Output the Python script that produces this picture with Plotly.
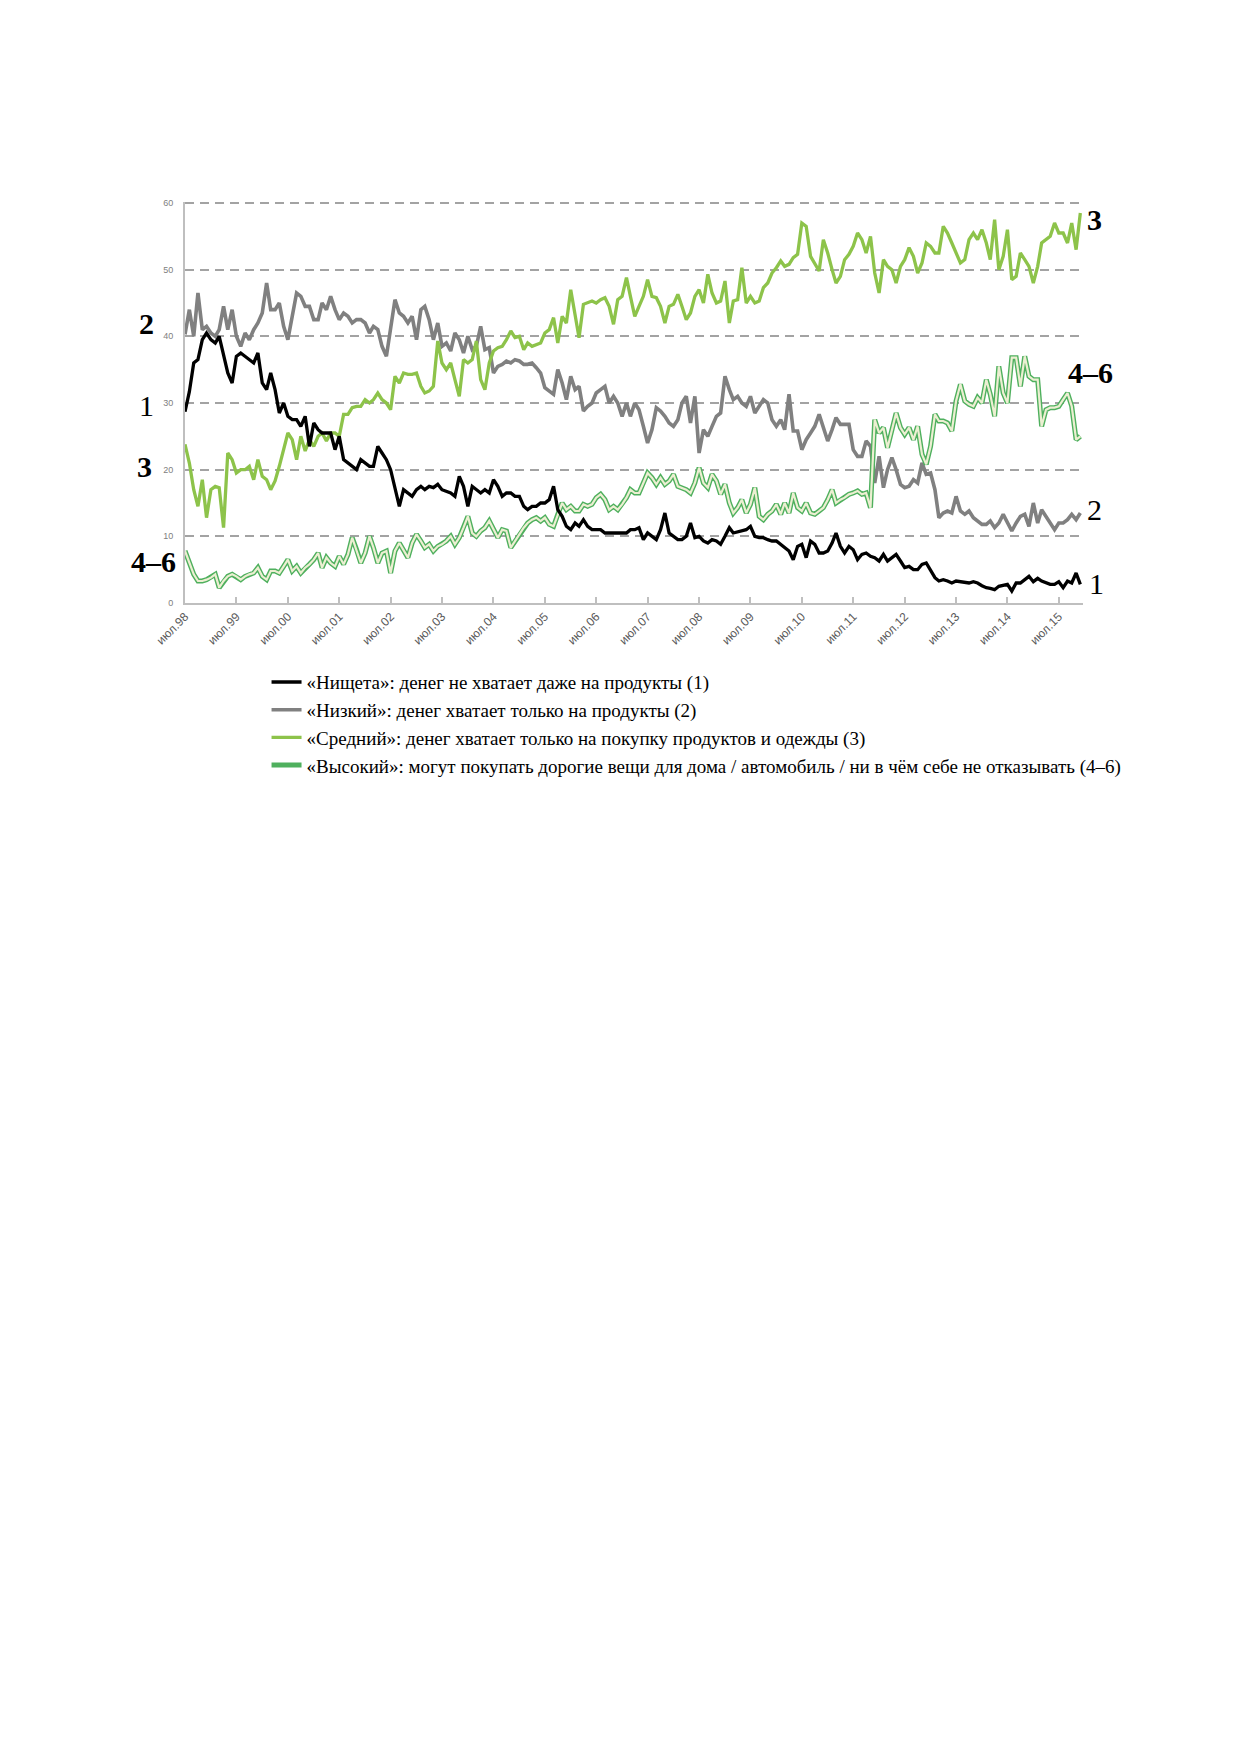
import pandas as pd
import plotly.graph_objects as go

## monthly points, jul 1998 .. dec 2015
months = pd.date_range('1998-07-01', periods=210, freq='MS')

## (1) «Нищета»
poverty = [28.7, 31.7, 36, 36.5, 39.5, 40.5, 39.5, 39, 40, 37,
           34.5, 33, 37, 37.5, 37, 36.5, 36, 37.5, 33, 32,
           34.5, 32, 28.5, 30, 28, 27.5, 27.5, 26.5, 28, 23.5,
           27, 26, 25.5, 25.5, 25.5, 23, 25, 21.5, 21, 20.5,
           20, 21.5, 21, 20.5, 20.5, 23.5, 22.5, 21.5, 20, 17,
           14.5, 17, 16.5, 16, 17, 17.5, 17, 17.5, 17.3, 17.8,
           17, 16.8, 16.5, 16, 19, 17.5, 14.5, 17.5, 17, 16.5,
           17, 16.5, 18.5, 17.5, 16, 16.5, 16.5, 16, 16, 14.5,
           14, 14.5, 14.5, 15, 15, 15.5, 17.5, 14, 13, 11.5,
           11, 12, 11.5, 12.5, 11.5, 11, 11, 11, 10.5, 10.5,
           10.5, 10.5, 10.5, 10.5, 11, 11, 11.3, 9.5, 10.5, 10,
           9.5, 11, 13.5, 10.5, 10, 9.5, 9.5, 10, 12, 9.8,
           10, 9.3, 9, 9.5, 9.3, 8.8, 10, 11.3, 10.5, 10.7,
           10.8, 11, 11.5, 10, 9.8, 9.8, 9.5, 9.3, 9.3, 8.8,
           8.2, 7.8, 6.5, 8.5, 8.8, 6.8, 9.3, 8.8, 7.5, 7.5,
           7.8, 9, 10.5, 8.5, 7.5, 8.5, 8, 6.5, 7.3, 7.5,
           7, 6.8, 6.3, 7.3, 6.3, 6.8, 7.3, 6.3, 5.3, 5.5,
           5, 5, 5.8, 6, 4.8, 3.8, 3.3, 3.5, 3.3, 3,
           3.3, 3.2, 3, 3, 3.2, 3, 2.6, 2.3, 2.2, 2,
           2.5, 2.7, 2.8, 1.8, 3, 3, 3.5, 4, 3.2, 3.7,
           3.3, 3, 2.8, 2.8, 3.2, 2.3, 3.3, 3, 4.5, 2.8]

## (2) «Низкий»
low = [40.3, 44, 40, 46.5, 41, 41.5, 40.5, 40, 41, 44.5,
       41, 44, 40, 38.5, 40.5, 39.5, 41, 42, 43.5, 48,
       44, 44, 45, 41.5, 39.5, 43, 46.5, 46, 44.5, 44.5,
       42.5, 42.5, 45, 44, 46, 44, 42.5, 43.5, 43, 42,
       42.5, 42.5, 42, 40.5, 41.5, 41, 38.5, 37, 41.5, 45.5,
       43.5, 43, 42, 43, 39.5, 44, 44.5, 42.5, 39.5, 42,
       38.5, 39, 37.8, 40.5, 39.5, 37.5, 40, 38, 38.5, 41.5,
       38, 38.3, 34.5, 35.5, 35.8, 36.3, 36, 36.5, 36.3, 35.8,
       35.8, 36, 35.3, 34.5, 32.3, 31.8, 31.3, 35, 33, 30.5,
       34, 32, 32.5, 28.8, 29.5, 30, 31.5, 32, 32.5, 30,
       31, 30, 28, 30, 28, 30, 29, 26.5, 24, 26,
       29.3, 28.8, 28, 27, 26.5, 27.5, 30, 31, 27, 31,
       22.5, 26, 25, 26.5, 28, 28.5, 34, 32, 30.5, 31,
       30, 29.5, 31, 28.5, 29.5, 30.5, 30, 27.5, 26.5, 27.5,
       26, 31.3, 25.8, 25.8, 23, 24.5, 25.5, 26.5, 28.3, 26.3,
       24.3, 26, 27.8, 26.8, 26.8, 26.8, 23, 22, 22, 24.3,
       23.5, 18, 22, 17.3, 20, 21.8, 20, 17.8, 17.3, 17.5,
       18.5, 18, 21, 19.3, 19.5, 17, 12.8, 13.5, 13.8, 13.5,
       16, 13.8, 13.3, 13.8, 12.8, 12.3, 11.8, 11.8, 12.3, 11.3,
       12, 13.3, 12, 10.8, 12, 13, 13.3, 11.5, 15, 12,
       14, 13, 11.8, 11, 12, 12, 12.5, 13.3, 12.5, 13.5]

## (3) «Средний»
middle = [23.8, 21, 17, 14.5, 18.5, 12.8, 17, 17.5, 17.3, 11.3,
          22.5, 21.5, 19.5, 20, 20, 20.5, 18.5, 21.5, 19, 18.5,
          17, 18.3, 20.5, 23, 25.5, 24.5, 21.5, 25, 22.8, 24.5,
          23.5, 25, 25.5, 24.3, 25.5, 25.5, 25, 28.3, 28.3, 29.3,
          29.5, 29.5, 30.5, 30, 30.5, 31.5, 30.5, 30, 29, 34,
          33, 34.5, 34.3, 34.3, 34.5, 32.5, 31.5, 31.8, 32.5, 39.3,
          36, 35, 36, 33.5, 31, 36.5, 36, 36.5, 39.3, 33.5,
          32, 36, 37.8, 38.3, 38.5, 39.5, 40.8, 39.8, 40, 38,
          39, 38.5, 38.8, 39, 40.5, 41, 42.8, 39, 43, 42,
          47, 42.8, 39.8, 44.8, 45, 45.3, 45, 45.5, 45.8, 44.5,
          41.8, 45.5, 46, 48.8, 46, 43, 44.5, 46, 48.5, 46,
          45.8, 44.5, 42, 44.5, 44.8, 46.3, 44.5, 42.5, 43.5, 46,
          47, 45, 49.3, 46.5, 45, 45.3, 48.3, 42, 45.3, 45.5,
          50.3, 45, 46, 45, 45.3, 47.3, 48, 49.5, 50.3, 51.3,
          50.5, 50.8, 51.8, 52.3, 57, 56.5, 52, 51, 49.8, 54.5,
          52.5, 50, 48, 49, 51.5, 52.3, 53.5, 55.5, 54.5, 52.5,
          55, 49.5, 46.5, 51.5, 50.5, 50, 48, 50.5, 51.5, 53.3,
          52, 49.5, 51, 54, 53.5, 52.5, 52.5, 56.5, 55.5, 54,
          52.5, 51, 51.5, 54.5, 55.5, 54.5, 56, 54, 51.5, 57.5,
          50, 52, 56, 48.5, 49, 52.5, 51.5, 50.5, 48, 50.5,
          54, 54.5, 55, 57, 55.5, 55.5, 54, 57, 53, 58.5]

## (4-6) «Высокий»
high = [7.8, 6, 4.3, 3.3, 3.3, 3.5, 3.8, 4.3, 2.3, 3.3,
        4, 4.3, 4, 3.5, 4, 4.3, 4.5, 5.3, 4, 3.5,
        4.8, 4.8, 4.5, 5.5, 6.5, 4.8, 5.5, 4.5, 5.3, 5.8,
        6.5, 7.5, 5.3, 6.8, 6, 5.5, 7, 5.8, 7.3, 9.8,
        8, 6, 7.5, 10, 8.3, 6, 7.5, 7.8, 4.5, 7.8,
        9, 8, 6.8, 9, 10.3, 9.3, 8.3, 8.8, 7.8, 8.5,
        8.8, 9.3, 10, 8.8, 9.8, 11.3, 13, 10.5, 10, 10.8,
        11.3, 12.3, 11, 9.8, 11, 10.8, 8.3, 9.3, 10.3, 11.3,
        12, 12.5, 12.8, 12.3, 12.8, 11.8, 11.5, 13.3, 15, 14,
        14.5, 13.8, 13.8, 14.8, 14.5, 14.8, 15.8, 16.3, 15.5, 14,
        14.5, 14, 14.8, 15.8, 17, 16.5, 16.5, 18, 19.5, 18.8,
        17.8, 18.8, 17.8, 18.3, 19.3, 17.5, 17.3, 17, 16.5, 18,
        20.3, 18, 17.3, 19.3, 18.3, 16.3, 17.8, 15, 13.5, 14.3,
        15.5, 13.5, 14.8, 17.3, 13, 12.5, 13.3, 13.8, 14.8, 13.3,
        15, 13.5, 16.5, 14.3, 13.8, 15, 13.5, 13.3, 13.8, 14.3,
        15.5, 17, 15, 15.5, 15.8, 16.3, 16.5, 16.8, 16.3, 16.5,
        14.3, 27.5, 25.5, 26.3, 23.3, 26, 28.5, 26.3, 25.3, 26.3,
        24.5, 26.5, 22.3, 20.8, 23.5, 28.3, 27.3, 27.3, 27, 25.8,
        30.3, 32.8, 30.3, 29.8, 29.5, 30.8, 30, 33.5, 31.3, 28,
        35.5, 31.5, 30, 36.8, 36.8, 32.5, 37, 34, 33.5, 33.5,
        26.5, 29, 29.3, 29.3, 29.5, 30.5, 31.5, 29.5, 24.5, 25]

tick_dates = ['1998-07-01', '1999-07-01', '2000-07-01', '2001-07-01', '2002-07-01', '2003-07-01',
              '2004-07-01', '2005-07-01', '2006-07-01', '2007-07-01', '2008-07-01', '2009-07-01',
              '2010-07-01', '2011-07-01', '2012-07-01', '2013-07-01', '2014-07-01', '2015-07-01']
tick_text = ['июл.98', 'июл.99', 'июл.00', 'июл.01', 'июл.02', 'июл.03', 'июл.04', 'июл.05', 'июл.06',
             'июл.07', 'июл.08', 'июл.09', 'июл.10', 'июл.11', 'июл.12', 'июл.13', 'июл.14', 'июл.15']

names = ['«Нищета»: денег не хватает даже на продукты (1)',
         '«Низкий»: денег хватает только на продукты (2)',
         '«Средний»: денег хватает только на покупку продуктов и одежды (3)',
         '«Высокий»: могут покупать дорогие вещи для дома / автомобиль / ни в чём себе не отказывать (4–6)']

fig = go.Figure()
fig.add_trace(go.Scatter(x=months, y=low, mode='lines', name=names[1], legendrank=2,
                         line=dict(color='#808080', width=3.6)))
## double line look for the 4-6 group: green outline + cream core
fig.add_trace(go.Scatter(x=months, y=high, mode='lines', name=names[3], legendrank=4,
                         line=dict(color='#4FB05E', width=5)))
fig.add_trace(go.Scatter(x=months, y=high, mode='lines', showlegend=False, hoverinfo='skip',
                         line=dict(color='#ECEFD2', width=2.2)))
fig.add_trace(go.Scatter(x=months, y=middle, mode='lines', name=names[2], legendrank=3,
                         line=dict(color='#8DC34A', width=3.3)))
fig.add_trace(go.Scatter(x=months, y=poverty, mode='lines', name=names[0], legendrank=1,
                         line=dict(color='#000000', width=3.3)))

big = dict(family='Liberation Serif', size=30, color='black')
labels = [('<b>2</b>', -0.0434, 42, 'center'), ('1', -0.0434, 29.6, 'center'),
          ('<b>3</b>', -0.045, 20.5, 'center'), ('<b>4–6</b>', -0.0356, 6.3, 'center'),
          ('<b>3</b>', 1.002, 57.6, 'left'), ('<b>4–6</b>', 1.008, 34.6, 'center'),
          ('2', 1.002, 14.1, 'left'), ('1', 1.0045, 3.0, 'left')]
for txt, xx, yy, anc in labels:
    fig.add_annotation(text=txt, x=xx, y=yy, xref='paper', yref='y', xanchor=anc,
                       yanchor='middle', showarrow=False, font=big)

## top gridline (plotly drops the one sitting on the plot edge)
fig.add_shape(type='line', xref='paper', yref='y', x0=0, x1=1, y0=60, y1=60,
              line=dict(color='#A3A3A3', width=2, dash='9px,6px'), layer='below')

## page body adds 8px, so the figure is 8px smaller than the window
fig.update_layout(
    width=1231, height=1744,
    margin=dict(l=177, r=156, t=194, b=1149),
    plot_bgcolor='white', paper_bgcolor='white',
    showlegend=True,
    legend=dict(x=0.0908, y=-0.150, xanchor='left', yanchor='top', traceorder='normal',
                font=dict(family='Liberation Serif', size=19, color='black'),
                bgcolor='rgba(0,0,0,0)'),
)
fig.update_xaxes(type='date', range=['1998-07-01', '2015-12-20'],
                 tickvals=tick_dates, ticktext=tick_text, tickangle=-45,
                 tickfont=dict(family='Liberation Sans', size=12, color='#595959'),
                 showgrid=False, showline=True, linecolor='#BFBFBF', linewidth=2,
                 ticks='inside', ticklen=6, tickwidth=1.5, tickcolor='#BFBFBF')
fig.update_yaxes(range=[0, 60.15], tickvals=[0, 10, 20, 30, 40, 50, 60],
                 tickfont=dict(family='Liberation Sans', size=9, color='#808080'),
                 showgrid=True, gridcolor='#A3A3A3', gridwidth=2, griddash='9px,6px',
                 showline=True, linecolor='#BFBFBF', linewidth=2, zeroline=False,
                 ticklabelstandoff=8)

fig.write_html("out.html")
